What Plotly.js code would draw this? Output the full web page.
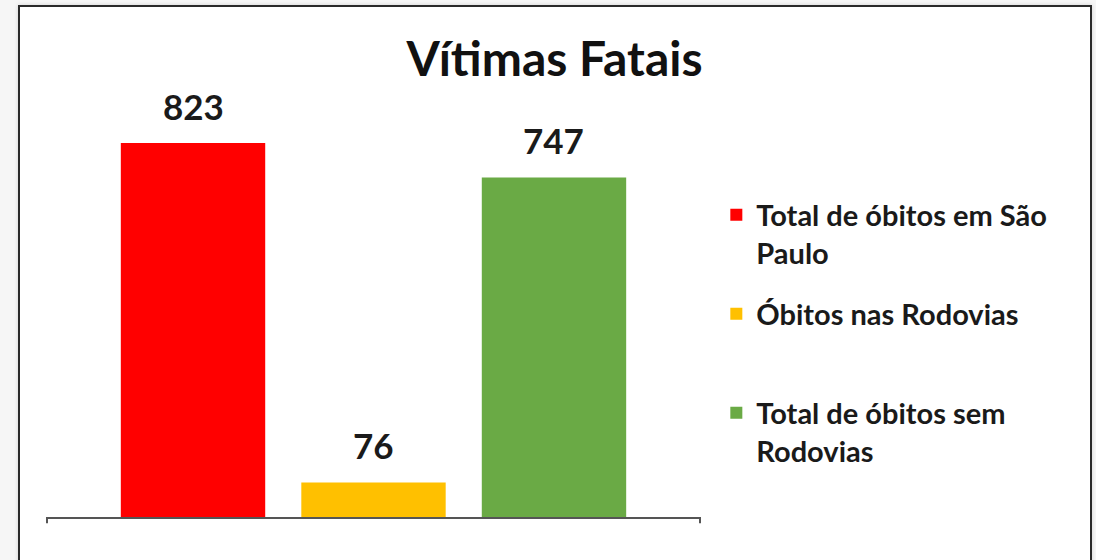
<!DOCTYPE html>
<html>
<head>
<meta charset="utf-8">
<script src="https://cdn.plot.ly/plotly-3.0.1.min.js"></script>
<style>
  html, body { margin: 0; padding: 0; width: 1096px; height: 560px; overflow: hidden; background: #f6f6f6; }
  #frame { position: absolute; left: 18px; top: 5px; width: 1070px; height: 600px; border: 2px solid #2a2a2a; background: #ffffff; box-shadow: 0 0 4px rgba(0,0,0,0.15); }
  #chart { position: absolute; left: 0; top: 0; width: 1096px; height: 560px; }
</style>
</head>
<body>
<div id="frame"></div>
<div id="chart"></div>
<script>
const categories = ["Total de óbitos em São Paulo", "Óbitos nas Rodovias", "Total de óbitos sem Rodovias"];
const legendLabels = ["Total de óbitos em São<br>Paulo", "Óbitos nas Rodovias", "Total de óbitos sem<br>Rodovias"];
const values = [823, 76, 747];
const colors = ["#ff0000", "#ffc000", "#6aaa45"];
const chartTitle = "Vítimas Fatais";

const FONT = "Lato, 'Open Sans', sans-serif";
const legendNames = ["legend", "legend2", "legend3"];

const traces = categories.map((c, i) => ({
  type: "bar",
  x: [i],
  y: [values[i]],
  name: legendLabels[i],
  legend: legendNames[i],
  marker: { color: colors[i], line: { width: 0 } },
  width: 0.8,
  hoverinfo: "skip"
}));

const annotations = values.map((v, i) => ({
  x: i, y: v, xref: "x", yref: "y",
  text: "<b>" + v + "</b>",
  showarrow: false,
  yanchor: "bottom",
  yshift: 14,
  font: { family: FONT, size: 35, color: "#1a1a1a" }
}));

const legendYs = [0.728, 0.508, 0.288];
const legendCommon = (y) => ({
  x: 1.025, y: y, xanchor: "left", yanchor: "top",
  bgcolor: "rgba(0,0,0,0)", borderwidth: 0,
  valign: "top",
  font: { family: FONT, size: 29, color: "#1a1a1a", weight: "bold" }
});

const layout = {
  width: 1096, height: 560,
  margin: { l: 47, r: 396, t: 67, b: 43 },
  paper_bgcolor: "rgba(0,0,0,0)",
  plot_bgcolor: "rgba(0,0,0,0)",
  title: {
    text: "<b>" + chartTitle + "</b>",
    x: 0.506, xref: "container", xanchor: "center",
    y: 0.8946, yref: "container", yanchor: "middle",
    font: { family: FONT, size: 48, color: "#111111" }
  },
  xaxis: {
    type: "linear",
    range: [-0.809, 2.809],
    showline: true, linecolor: "#555555", linewidth: 2,
    showgrid: false, zeroline: false, showticklabels: false, ticks: ""
  },
  yaxis: {
    range: [0, 990],
    visible: false, showgrid: false, zeroline: false
  },
  bargap: 0.2,
  showlegend: true,
  legend: legendCommon(legendYs[0]),
  legend2: legendCommon(legendYs[1]),
  legend3: legendCommon(legendYs[2]),
  annotations: annotations,
  shapes: [
    { type: "line", xref: "paper", yref: "paper", x0: 0, x1: 0, y0: 0, y1: -0.014, line: { color: "#555555", width: 2 } },
    { type: "line", xref: "paper", yref: "paper", x0: 1, x1: 1, y0: 0, y1: -0.014, line: { color: "#555555", width: 2 } }
  ]
};

Plotly.newPlot("chart", traces, layout, { displayModeBar: false, staticPlot: true });
</script>
</body>
</html>
